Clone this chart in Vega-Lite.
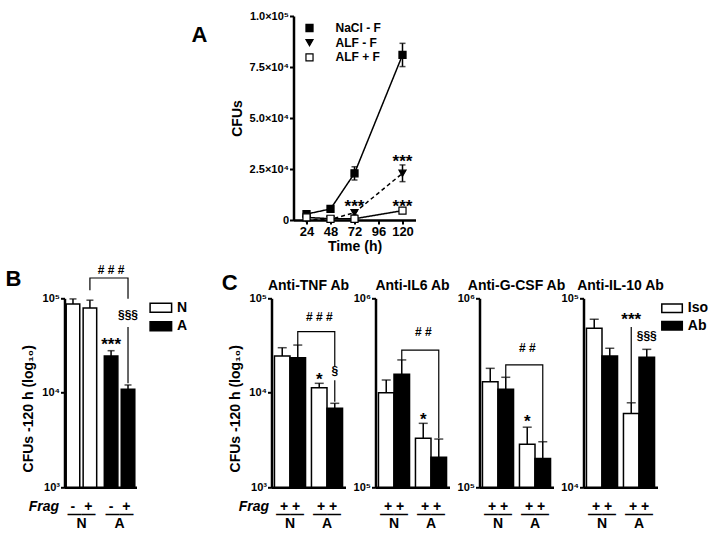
{
  "$schema": "https://vega.github.io/schema/vega-lite/v6.json",
  "background": "white",
  "padding": {"left": 5.5, "top": 10, "right": 0, "bottom": 0},
  "bounds": "flush",
  "spacing": 282.3,
  "resolve": {"scale": {"fill": "independent", "shape": "independent", "stroke": "independent", "strokeDash": "independent", "xOffset": "independent"}},
  "vconcat": [
    {
      "bounds": "flush",
      "spacing": 30,
      "resolve": {"scale": {"fill": "independent", "shape": "independent", "stroke": "independent", "strokeDash": "independent"}},
      "hconcat": [
        {
          "width": 258, "height": 204,
          "data": {"values": []},
          "mark": "point",
          "title": {"text": "A", "anchor": "start", "frame": "group", "fontSize": 22, "baseline": "alphabetic", "dx": 186, "offset": -48}
        },
        {
          "width": 122, "height": 204,
          "data": {"values": [
            {"ser": "NaCl - F", "t": 24, "m": 2900, "lo": 2500, "hi": 3300},
            {"ser": "NaCl - F", "t": 48, "m": 5400, "lo": 5000, "hi": 5800},
            {"ser": "NaCl - F", "t": 72, "m": 22900, "lo": 19600, "hi": 26100},
            {"ser": "NaCl - F", "t": 120, "m": 80900, "lo": 75200, "hi": 86600},
            {"ser": "ALF - F", "t": 24, "m": 300, "lo": 300, "hi": 300},
            {"ser": "ALF - F", "t": 48, "m": 300, "lo": 300, "hi": 300},
            {"ser": "ALF - F", "t": 72, "m": 3600, "lo": 2600, "hi": 4600},
            {"ser": "ALF - F", "t": 120, "m": 22900, "lo": 18800, "hi": 27000},
            {"ser": "ALF + F", "t": 24, "m": 1300, "lo": 1000, "hi": 1600},
            {"ser": "ALF + F", "t": 48, "m": 600, "lo": 600, "hi": 600},
            {"ser": "ALF + F", "t": 72, "m": 600, "lo": 600, "hi": 600},
            {"ser": "ALF + F", "t": 120, "m": 4600, "lo": 4200, "hi": 5000}
          ]},
          "encoding": {
            "x": {"field": "t", "type": "quantitative", "scale": {"domain": [11, 133], "nice": false, "zero": false},
                  "axis": {"values": [24, 48, 72, 96, 120], "title": "Time (h)", "labelFontSize": 13, "labelPadding": 1, "titlePadding": 1, "labelFlush": false}},
            "y": {"field": "m", "type": "quantitative", "scale": {"domain": [0, 100000], "nice": false},
                  "axis": {"values": [0, 25000, 50000, 75000, 100000], "title": "CFUs", "labelPadding": 1, "titlePadding": 5, "labelFlush": false,
                           "labelExpr": "datum.value == 0 ? '0' : datum.value == 25000 ? '2.5×10⁴' : datum.value == 50000 ? '5.0×10⁴' : datum.value == 75000 ? '7.5×10⁴' : '1.0×10⁵'"}}
          },
          "layer": [
            {"mark": {"type": "line", "color": "black", "strokeWidth": 1.5},
             "encoding": {"detail": {"field": "ser", "type": "nominal"},
                          "strokeDash": {"field": "ser", "type": "nominal", "scale": {"domain": ["ALF - F", "NaCl - F", "ALF + F"], "range": [[4, 3], [1, 0], [1, 0]]}, "legend": null}}},
            {"mark": {"type": "rule", "color": "black", "strokeWidth": 1.5},
             "encoding": {"y": {"field": "lo", "type": "quantitative", "title": "CFUs"}, "y2": {"field": "hi"}}},
            {"mark": {"type": "tick", "orient": "horizontal", "size": 6, "thickness": 1.5, "color": "black"},
             "encoding": {"y": {"field": "hi", "type": "quantitative", "title": "CFUs"}}},
            {"mark": {"type": "tick", "orient": "horizontal", "size": 6, "thickness": 1.5, "color": "black"},
             "encoding": {"y": {"field": "lo", "type": "quantitative", "title": "CFUs"}}},
            {"mark": {"type": "point", "filled": true, "size": 50, "strokeWidth": 1.2, "opacity": 1},
             "encoding": {
               "shape": {"field": "ser", "type": "nominal", "scale": {"domain": ["NaCl - F", "ALF - F", "ALF + F"], "range": ["square", "triangle-down", "square"]},
                         "legend": {"title": null, "orient": "none", "legendX": 10, "legendY": 6, "labelFontSize": 12, "symbolSize": 50, "symbolStrokeWidth": 1.2, "rowPadding": 2.7, "labelOffset": 20, "padding": 0}},
               "fill": {"field": "ser", "type": "nominal", "scale": {"domain": ["NaCl - F", "ALF - F", "ALF + F"], "range": ["black", "black", "white"]},
                         "legend": {"title": null, "orient": "none", "legendX": 10, "legendY": 6, "labelFontSize": 12, "symbolSize": 50, "symbolStrokeWidth": 1.2, "rowPadding": 2.7, "labelOffset": 20, "padding": 0}},
               "stroke": {"field": "ser", "type": "nominal", "scale": {"domain": ["NaCl - F", "ALF - F", "ALF + F"], "range": ["black", "black", "black"]},
                         "legend": {"title": null, "orient": "none", "legendX": 10, "legendY": 6, "labelFontSize": 12, "symbolSize": 50, "symbolStrokeWidth": 1.2, "rowPadding": 2.7, "labelOffset": 20, "padding": 0}}
             }},
            {"data": {"values": [
               {"t": 72, "m": 4100, "s": "***"},
               {"t": 120, "m": 26200, "s": "***"},
               {"t": 120, "m": 4100, "s": "***"}
             ]},
             "mark": {"type": "text", "fontSize": 17, "baseline": "alphabetic"},
             "encoding": {"text": {"field": "s"}}}
          ]
        }
      ]
    },
    {
      "bounds": "flush",
      "spacing": 30,
      "resolve": {"scale": {"fill": "independent", "xOffset": "independent"}},
      "hconcat": [
        {
          "width": 28.7, "height": 189,
          "data": {"values": []},
          "mark": "point",
          "title": {"text": "B", "anchor": "start", "frame": "group", "fontSize": 22, "baseline": "alphabetic", "offset": -9.7}
        },
        {
          "width": 72, "height": 189,
          "data": {"values": [
            {"g": "N", "s": "-", "v": 87000, "e": 98500},
            {"g": "N", "s": "+", "v": 79000, "e": 95500},
            {"g": "A", "s": "-", "v": 24500, "e": 27900},
            {"g": "A", "s": "+", "v": 10900, "e": 12100}
          ]},
          "encoding": {
            "x": {"field": "g", "type": "nominal", "scale": {"domain": ["N", "A"], "paddingInner": 0.2, "paddingOuter": 0.045},
                  "axis": {"title": "Frag", "titleFontStyle": "italic", "titleAngle": 0, "titleAlign": "right", "titleBaseline": "alphabetic", "titleX": -6, "titleY": 23,
                           "labelExpr": "['-\u00a0\u00a0\u200a+', '——', datum.label]", "labelFontSize": 14, "labelLineHeight": 8.5, "labelPadding": 12, "labelAngle": 0, "ticks": false}},
            "xOffset": {"field": "s", "type": "nominal", "scale": {"domain": ["-", "+"], "paddingInner": 0.2, "paddingOuter": 0}},
            "y": {"field": "v", "type": "quantitative", "stack": null, "scale": {"type": "log", "domain": [1000, 100000]},
                  "axis": {"title": "CFUs -120 h (log₁₀)", "values": [1000, 10000, 100000], "titlePadding": 6, "titleY": 110, "labelPadding": 1,
                           "labelExpr": "'10' + (datum.value > 500000 ? '⁶' : datum.value > 50000 ? '⁵' : datum.value > 5000 ? '⁴' : '³')"}}
          },
          "layer": [
            {"mark": {"type": "bar", "stroke": "black", "strokeWidth": 1.5},
             "encoding": {"fill": {"field": "g", "type": "nominal", "scale": {"domain": ["N", "A"], "range": ["white", "black"]},
                                   "legend": {"title": null, "orient": "none", "legendX": 83.6, "legendY": 2.5, "padding": 0, "symbolType": "M-1,-0.9H3.3V0.9H-1Z", "symbolSize": 100, "symbolStrokeColor": "black", "symbolStrokeWidth": 1.5, "labelFontSize": 14, "labelOffset": 15, "rowPadding": 2.5}}}},
            {"mark": {"type": "rule", "color": "black", "strokeWidth": 1.5}, "encoding": {"y2": {"field": "e"}}},
            {"mark": {"type": "tick", "orient": "horizontal", "size": 7, "thickness": 1.5, "color": "black"},
             "encoding": {"y": {"field": "e", "type": "quantitative", "title": "CFUs -120 h (log₁₀)"}}},
            {"data": {"values": [
               {"g": "N", "s": "+", "v": 121500, "seg": 1, "k": 1},
               {"g": "N", "s": "+", "v": 164000, "seg": 1, "k": 2},
               {"g": "A", "s": "+", "v": 164000, "seg": 1, "k": 3},
               {"g": "A", "s": "+", "v": 99000, "seg": 1, "k": 4},
               {"g": "A", "s": "+", "v": 49600, "seg": 2, "k": 1},
               {"g": "A", "s": "+", "v": 12600, "seg": 2, "k": 2}
             ]},
             "mark": {"type": "line", "color": "black", "strokeWidth": 1.2},
             "encoding": {"detail": {"field": "seg", "type": "nominal"}, "order": {"field": "k", "type": "quantitative"}}},
            {"data": {"values": [
               {"g": "A", "s": "-", "v": 182000, "t": "#\u00a0#\u00a0#"},
               {"g": "A", "s": "+", "v": 61100, "t": "§§§"}
             ]},
             "mark": {"type": "text", "fontSize": 12, "baseline": "alphabetic"},
             "encoding": {"text": {"field": "t"}}},
            {"data": {"values": [
               {"g": "A", "s": "-", "v": 28500, "t": "***"}
             ]},
             "mark": {"type": "text", "fontSize": 17, "baseline": "alphabetic"},
             "encoding": {"text": {"field": "t"}}}
          ]
        },
        {
          "width": 75, "height": 189,
          "data": {"values": []},
          "mark": "point",
          "title": {"text": "C", "anchor": "start", "frame": "group", "fontSize": 22, "baseline": "alphabetic", "offset": -14, "dx": 55.3}
        },
        {
          "width": 74, "height": 189,
          "title": {"text": "Anti-TNF Ab", "fontSize": 14, "baseline": "alphabetic", "offset": -12, "frame": "group", "anchor": "middle"},
          "data": {"values": [
            {"g": "N", "s": "Iso", "v": 24500, "e": 30000},
            {"g": "N", "s": "Ab", "v": 23500, "e": 32000},
            {"g": "A", "s": "Iso", "v": 11300, "e": 12600},
            {"g": "A", "s": "Ab", "v": 6850, "e": 7740}
          ]},
          "encoding": {
            "x": {"field": "g", "type": "nominal", "scale": {"domain": ["N", "A"], "paddingInner": 0.16, "paddingOuter": 0.08},
                  "axis": {"title": "Frag", "titleFontStyle": "italic", "titleAngle": 0, "titleAlign": "right", "titleBaseline": "alphabetic", "titleX": -3, "titleY": 23,
                           "labelExpr": "['+\u00a0+', '——', datum.label]", "labelFontSize": 14, "labelLineHeight": 8.5, "labelPadding": 12, "labelAngle": 0, "ticks": false}},
            "xOffset": {"field": "s", "type": "nominal", "scale": {"domain": ["Iso", "Ab"], "paddingInner": 0, "paddingOuter": 0}},
            "y": {"field": "v", "type": "quantitative", "stack": null, "scale": {"type": "log", "domain": [1000, 100000]},
                  "axis": {"title": "CFUs -120 h (log₁₀)", "values": [1000, 10000, 100000], "titlePadding": 6, "titleY": 110, "labelPadding": 1,
                           "labelExpr": "'10' + (datum.value > 500000 ? '⁶' : datum.value > 50000 ? '⁵' : datum.value > 5000 ? '⁴' : '³')"}}
          },
          "layer": [
            {"mark": {"type": "bar", "stroke": "black", "strokeWidth": 1.5},
             "encoding": {"fill": {"field": "s", "type": "nominal", "scale": {"domain": ["Iso", "Ab"], "range": ["white", "black"]}, "legend": null}}},
            {"mark": {"type": "rule", "color": "black", "strokeWidth": 1.5}, "encoding": {"y2": {"field": "e"}}},
            {"mark": {"type": "tick", "orient": "horizontal", "size": 9, "thickness": 1.5, "color": "black"},
             "encoding": {"y": {"field": "e", "type": "quantitative", "title": "CFUs -120 h (log₁₀)"}}},
            {"data": {"values": [
               {"g": "N", "s": "Ab", "v": 32000, "seg": 1, "k": 1},
               {"g": "N", "s": "Ab", "v": 44400, "seg": 1, "k": 2},
               {"g": "A", "s": "Ab", "v": 44400, "seg": 1, "k": 3},
               {"g": "A", "s": "Ab", "v": 18900, "seg": 1, "k": 4},
               {"g": "A", "s": "Ab", "v": 13600, "seg": 2, "k": 1},
               {"g": "A", "s": "Ab", "v": 8050, "seg": 2, "k": 2}
             ]},
             "mark": {"type": "line", "color": "black", "strokeWidth": 1.2},
             "encoding": {"detail": {"field": "seg", "type": "nominal"}, "order": {"field": "k", "type": "quantitative"}}},
            {"data": {"values": [
               {"g": "A", "s": "Iso", "v": 57500, "t": "#\u00a0#\u00a0#"},
               {"g": "A", "s": "Ab", "v": 15500, "t": "§"}
             ]},
             "mark": {"type": "text", "fontSize": 12, "baseline": "alphabetic"},
             "encoding": {"text": {"field": "t"}}},
            {"data": {"values": [
               {"g": "A", "s": "Iso", "v": 12100, "t": "*"}
             ]},
             "mark": {"type": "text", "fontSize": 17, "baseline": "alphabetic"},
             "encoding": {"text": {"field": "t"}}}
          ]
        },
        {
          "width": 74, "height": 189,
          "title": {"text": "Anti-IL6 Ab", "fontSize": 14, "baseline": "alphabetic", "offset": -12, "frame": "group", "anchor": "middle"},
          "data": {"values": [
            {"g": "N", "s": "Iso", "v": 316000, "e": 370000},
            {"g": "N", "s": "Ab", "v": 396000, "e": 472000},
            {"g": "A", "s": "Iso", "v": 182000, "e": 218000},
            {"g": "A", "s": "Ab", "v": 144000, "e": 180000}
          ]},
          "encoding": {
            "x": {"field": "g", "type": "nominal", "scale": {"domain": ["N", "A"], "paddingInner": 0.16, "paddingOuter": 0.08},
                  "axis": {"title": null, "labelExpr": "['+\u00a0+', '——', datum.label]", "labelFontSize": 14, "labelLineHeight": 8.5, "labelPadding": 12, "labelAngle": 0, "ticks": false}},
            "xOffset": {"field": "s", "type": "nominal", "scale": {"domain": ["Iso", "Ab"], "paddingInner": 0, "paddingOuter": 0}},
            "y": {"field": "v", "type": "quantitative", "stack": null, "scale": {"type": "log", "domain": [100000, 1000000]},
                  "axis": {"title": null, "values": [100000, 1000000], "labelPadding": 1,
                           "labelExpr": "'10' + (datum.value > 500000 ? '⁶' : datum.value > 50000 ? '⁵' : datum.value > 5000 ? '⁴' : '³')"}}
          },
          "layer": [
            {"mark": {"type": "bar", "stroke": "black", "strokeWidth": 1.5},
             "encoding": {"fill": {"field": "s", "type": "nominal", "scale": {"domain": ["Iso", "Ab"], "range": ["white", "black"]}, "legend": null}}},
            {"mark": {"type": "rule", "color": "black", "strokeWidth": 1.5}, "encoding": {"y2": {"field": "e"}}},
            {"mark": {"type": "tick", "orient": "horizontal", "size": 9, "thickness": 1.5, "color": "black"},
             "encoding": {"y": {"field": "e", "type": "quantitative", "title": null}}},
            {"data": {"values": [
               {"g": "N", "s": "Ab", "v": 472000, "seg": 1, "k": 1},
               {"g": "N", "s": "Ab", "v": 532000, "seg": 1, "k": 2},
               {"g": "A", "s": "Ab", "v": 532000, "seg": 1, "k": 3},
               {"g": "A", "s": "Ab", "v": 182000, "seg": 1, "k": 4}
             ]},
             "mark": {"type": "line", "color": "black", "strokeWidth": 1.2},
             "encoding": {"detail": {"field": "seg", "type": "nominal"}, "order": {"field": "k", "type": "quantitative"}}},
            {"data": {"values": [
               {"g": "A", "s": "Iso", "v": 631000, "t": "#\u00a0#"}
             ]},
             "mark": {"type": "text", "fontSize": 12, "baseline": "alphabetic"},
             "encoding": {"text": {"field": "t"}}},
            {"data": {"values": [
               {"g": "A", "s": "Iso", "v": 214000, "t": "*"}
             ]},
             "mark": {"type": "text", "fontSize": 17, "baseline": "alphabetic"},
             "encoding": {"text": {"field": "t"}}}
          ]
        },
        {
          "width": 74, "height": 189,
          "title": {"text": "Anti-G-CSF Ab", "fontSize": 14, "baseline": "alphabetic", "offset": -12, "frame": "group", "anchor": "middle"},
          "data": {"values": [
            {"g": "N", "s": "Iso", "v": 362000, "e": 426000},
            {"g": "N", "s": "Ab", "v": 330000, "e": 382000},
            {"g": "A", "s": "Iso", "v": 169000, "e": 208000},
            {"g": "A", "s": "Ab", "v": 142000, "e": 174000}
          ]},
          "encoding": {
            "x": {"field": "g", "type": "nominal", "scale": {"domain": ["N", "A"], "paddingInner": 0.16, "paddingOuter": 0.08},
                  "axis": {"title": null, "labelExpr": "['+\u00a0+', '——', datum.label]", "labelFontSize": 14, "labelLineHeight": 8.5, "labelPadding": 12, "labelAngle": 0, "ticks": false}},
            "xOffset": {"field": "s", "type": "nominal", "scale": {"domain": ["Iso", "Ab"], "paddingInner": 0, "paddingOuter": 0}},
            "y": {"field": "v", "type": "quantitative", "stack": null, "scale": {"type": "log", "domain": [100000, 1000000]},
                  "axis": {"title": null, "values": [100000, 1000000], "labelPadding": 1,
                           "labelExpr": "'10' + (datum.value > 500000 ? '⁶' : datum.value > 50000 ? '⁵' : datum.value > 5000 ? '⁴' : '³')"}}
          },
          "layer": [
            {"mark": {"type": "bar", "stroke": "black", "strokeWidth": 1.5},
             "encoding": {"fill": {"field": "s", "type": "nominal", "scale": {"domain": ["Iso", "Ab"], "range": ["white", "black"]}, "legend": null}}},
            {"mark": {"type": "rule", "color": "black", "strokeWidth": 1.5}, "encoding": {"y2": {"field": "e"}}},
            {"mark": {"type": "tick", "orient": "horizontal", "size": 9, "thickness": 1.5, "color": "black"},
             "encoding": {"y": {"field": "e", "type": "quantitative", "title": null}}},
            {"data": {"values": [
               {"g": "N", "s": "Ab", "v": 383000, "seg": 1, "k": 1},
               {"g": "N", "s": "Ab", "v": 444000, "seg": 1, "k": 2},
               {"g": "A", "s": "Ab", "v": 444000, "seg": 1, "k": 3},
               {"g": "A", "s": "Ab", "v": 174000, "seg": 1, "k": 4}
             ]},
             "mark": {"type": "line", "color": "black", "strokeWidth": 1.2},
             "encoding": {"detail": {"field": "seg", "type": "nominal"}, "order": {"field": "k", "type": "quantitative"}}},
            {"data": {"values": [
               {"g": "A", "s": "Iso", "v": 518000, "t": "#\u00a0#"}
             ]},
             "mark": {"type": "text", "fontSize": 12, "baseline": "alphabetic"},
             "encoding": {"text": {"field": "t"}}},
            {"data": {"values": [
               {"g": "A", "s": "Iso", "v": 209000, "t": "*"}
             ]},
             "mark": {"type": "text", "fontSize": 17, "baseline": "alphabetic"},
             "encoding": {"text": {"field": "t"}}}
          ]
        },
        {
          "width": 74, "height": 189,
          "title": {"text": "Anti-IL-10 Ab", "fontSize": 14, "baseline": "alphabetic", "offset": -12, "frame": "group", "anchor": "middle"},
          "data": {"values": [
            {"g": "N", "s": "Iso", "v": 69400, "e": 77400},
            {"g": "N", "s": "Ab", "v": 49500, "e": 54400},
            {"g": "A", "s": "Iso", "v": 24600, "e": 28000},
            {"g": "A", "s": "Ab", "v": 48700, "e": 53700}
          ]},
          "encoding": {
            "x": {"field": "g", "type": "nominal", "scale": {"domain": ["N", "A"], "paddingInner": 0.16, "paddingOuter": 0.08},
                  "axis": {"title": null, "labelExpr": "['+\u00a0+', '——', datum.label]", "labelFontSize": 14, "labelLineHeight": 8.5, "labelPadding": 12, "labelAngle": 0, "ticks": false}},
            "xOffset": {"field": "s", "type": "nominal", "scale": {"domain": ["Iso", "Ab"], "paddingInner": 0, "paddingOuter": 0}},
            "y": {"field": "v", "type": "quantitative", "stack": null, "scale": {"type": "log", "domain": [10000, 100000]},
                  "axis": {"title": null, "values": [10000, 100000], "labelPadding": 1,
                           "labelExpr": "'10' + (datum.value > 500000 ? '⁶' : datum.value > 50000 ? '⁵' : datum.value > 5000 ? '⁴' : '³')"}}
          },
          "layer": [
            {"mark": {"type": "bar", "stroke": "black", "strokeWidth": 1.5},
             "encoding": {"fill": {"field": "s", "type": "nominal", "scale": {"domain": ["Iso", "Ab"], "range": ["white", "black"]},
                                   "legend": {"title": null, "orient": "none", "legendX": 76.3, "legendY": 3, "padding": 0, "symbolType": "M-1,-0.85H3.1V0.85H-1Z", "symbolSize": 100, "symbolStrokeColor": "black", "symbolStrokeWidth": 1.5, "labelFontSize": 14, "labelOffset": 14, "rowPadding": 1.5}}}},
            {"mark": {"type": "rule", "color": "black", "strokeWidth": 1.5}, "encoding": {"y2": {"field": "e"}}},
            {"mark": {"type": "tick", "orient": "horizontal", "size": 9, "thickness": 1.5, "color": "black"},
             "encoding": {"y": {"field": "e", "type": "quantitative", "title": null}}},
            {"data": {"values": [
               {"g": "A", "s": "Iso", "v": 70500, "seg": 1, "k": 1},
               {"g": "A", "s": "Iso", "v": 28000, "seg": 1, "k": 2}
             ]},
             "mark": {"type": "line", "color": "black", "strokeWidth": 1.2},
             "encoding": {"detail": {"field": "seg", "type": "nominal"}, "order": {"field": "k", "type": "quantitative"}}},
            {"data": {"values": [
               {"g": "A", "s": "Ab", "v": 60200, "t": "§§§"}
             ]},
             "mark": {"type": "text", "fontSize": 12, "baseline": "alphabetic"},
             "encoding": {"text": {"field": "t"}}},
            {"data": {"values": [
               {"g": "A", "s": "Iso", "v": 72300, "t": "***"}
             ]},
             "mark": {"type": "text", "fontSize": 17, "baseline": "alphabetic"},
             "encoding": {"text": {"field": "t"}}}
          ]
        }
      ]
    }
  ],
  "config": {
    "view": {"stroke": null},
    "font": "Liberation Sans",
    "axis": {"labelFont": "Liberation Sans", "titleFont": "Liberation Sans", "labelFontWeight": "bold", "titleFontWeight": "bold", "labelColor": "black", "titleColor": "black",
             "domainColor": "black", "tickColor": "black", "domainWidth": 2.5, "tickWidth": 2, "tickSize": 4, "grid": false, "labelFontSize": 11, "titleFontSize": 14},
    "legend": {"labelFont": "Liberation Sans", "labelFontWeight": "bold", "labelColor": "black"},
    "title": {"font": "Liberation Sans", "fontWeight": "bold", "color": "black"},
    "text": {"font": "Liberation Sans", "fontWeight": "bold", "color": "black"}
  }
}
